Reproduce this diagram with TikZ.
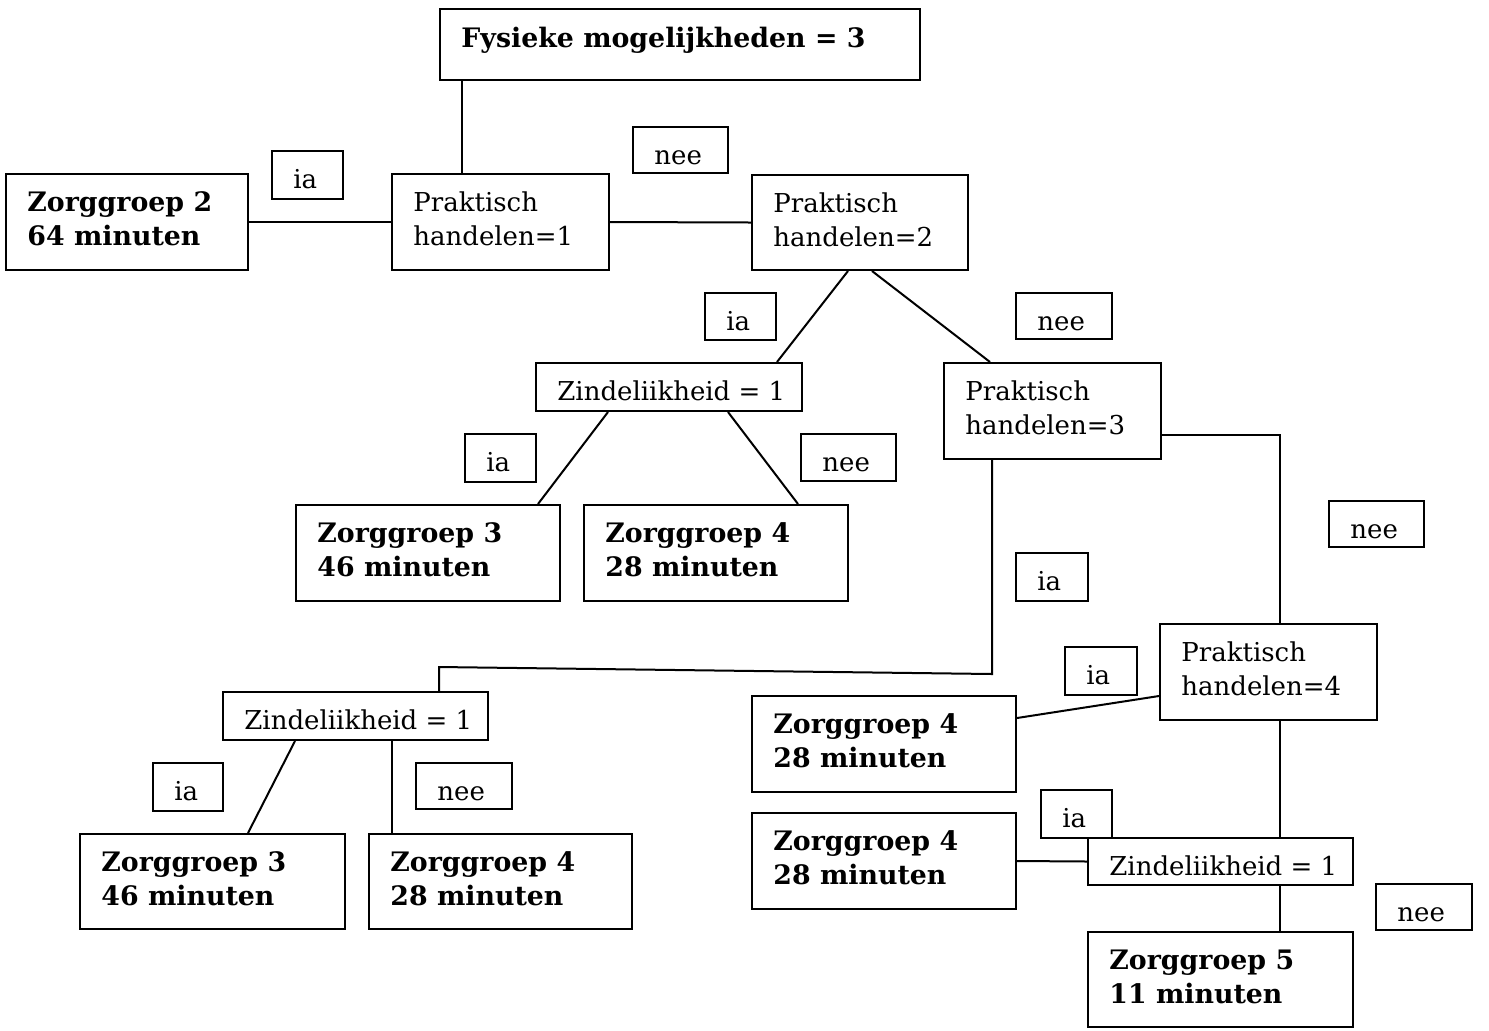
\documentclass[tikz,border=0pt]{standalone}
\usepackage{fontspec}
\setmainfont{DejaVu Serif}
\usetikzlibrary{fit,calc}
\newcommand\twol[2]{\begin{tabular}[t]{@{}l@{}}#1\\#2\end{tabular}}
% #1 name, #2 x1, #3 y1, #4 x2, #5 y2, #6 text style, #7 text
\newcommand\mkbox[7]{%
  \node[box, fit={(#2,#3) (#4,#5)}] (#1) {};
  \node[#6] (#1t) at (#2+21,#3+37.5) {#7};
}
\begin{document}
\begin{tikzpicture}[x=0.5pt,y=-0.5pt,
  box/.style={draw, inner sep=0pt, line width=1pt},
  txt/.style={anchor=base west, inner sep=0pt, font=\fontsize{13}{16.75}\selectfont},
  btxt/.style={anchor=base west, inner sep=0pt, font=\fontsize{13.4}{16.75}\selectfont\bfseries},
  conn/.style={draw, line width=1pt}]
\useasboundingbox (0,0) rectangle (1489,1030);

% top
\node[box, fit={(440,9) (920,80)}] (f) {};
\node[btxt] (ft) at (461,47) {Fysieke mogelijkheden = 3};

% row 1
\mkbox{z2}{6}{174}{248}{270}{btxt}{\twol{Zorggroep 2}{64 minuten}}
\mkbox{l1}{272}{151}{343}{199}{txt}{ia}
\mkbox{p1}{392}{174}{609}{270}{txt}{\twol{Praktisch}{handelen=1}}
\mkbox{l2}{633}{127}{728}{173}{txt}{nee}
\mkbox{p2}{752}{175}{968}{270}{txt}{\twol{Praktisch}{handelen=2}}

% row 2
\mkbox{l3}{705}{293}{776}{340}{txt}{ia}
\mkbox{l4}{1016}{293}{1112}{339}{txt}{nee}
\mkbox{zi1}{536}{363}{802}{411}{txt}{Zindeliikheid = 1}
\mkbox{p3}{944}{363}{1161}{459}{txt}{\twol{Praktisch}{handelen=3}}

% row 3
\mkbox{l5}{465}{434}{536}{482}{txt}{ia}
\mkbox{l6}{801}{434}{896}{481}{txt}{nee}
\mkbox{z3a}{296}{505}{560}{601}{btxt}{\twol{Zorggroep 3}{46 minuten}}
\mkbox{z4a}{584}{505}{848}{601}{btxt}{\twol{Zorggroep 4}{28 minuten}}
\mkbox{l7}{1329}{501}{1424}{547}{txt}{nee}
\mkbox{l8}{1016}{553}{1088}{601}{txt}{ia}

% row 4
\mkbox{p4}{1160}{624}{1377}{720}{txt}{\twol{Praktisch}{handelen=4}}
\mkbox{l9}{1065}{647}{1137}{695}{txt}{ia}
\mkbox{zi2}{223}{692}{488}{740}{txt}{Zindeliikheid = 1}
\mkbox{z4b}{752}{696}{1016}{792}{btxt}{\twol{Zorggroep 4}{28 minuten}}

% row 5
\mkbox{l10}{153}{763}{223}{811}{txt}{ia}
\mkbox{l11}{416}{763}{512}{809}{txt}{nee}
\mkbox{z3b}{80}{834}{345}{929}{btxt}{\twol{Zorggroep 3}{46 minuten}}
\mkbox{z4c}{369}{834}{632}{929}{btxt}{\twol{Zorggroep 4}{28 minuten}}
\mkbox{z4d}{752}{813}{1016}{909}{btxt}{\twol{Zorggroep 4}{28 minuten}}
\mkbox{l12}{1041}{790}{1112}{838}{txt}{ia}
\mkbox{zi3}{1088}{838}{1353}{885}{txt}{Zindeliikheid = 1}
\mkbox{l13}{1376}{884}{1472}{930}{txt}{nee}
\mkbox{z5}{1088}{932}{1353}{1027}{btxt}{\twol{Zorggroep 5}{11 minuten}}

% connectors
\path[conn] ($(f.south west)+(23,0)$) -- ($(p1.north west)+(71,0)$);
\path[conn] (z2.east) -- (p1.west);
\path[conn] (p1.east) -- (p2.west);
\path[conn] ($(p2.south west)+(97,0)$) -- ($(zi1.north west)+(242,0)$);
\path[conn] ($(p2.south west)+(121,0)$) -- ($(p3.north west)+(47,0)$);
\path[conn] ($(zi1.south west)+(73,0)$) -- ($(z3a.north west)+(243,0)$);
\path[conn] ($(zi1.south west)+(193,0)$) -- ($(z4a.north west)+(215,0)$);
\path[conn] ($(p3.south east)+(0,-25)$) -| ($(p4.north west)+(121,0)$);
\coordinate (c1) at ($(p3.south west)+(49,214)$);
\coordinate (c2) at ($(zi2.north west)+(217,-24)$);
\path[conn] ($(p3.south west)+(49,0)$) -- (c1) -- (c2) -- ($(zi2.north west)+(217,0)$);
\path[conn] ($(zi2.south west)+(73,0)$) -- ($(z3b.north west)+(169,0)$);
\path[conn] ($(zi2.south west)+(170,0)$) -- ($(z4c.north west)+(24,0)$);
\path[conn] ($(p4.south west)+(0,-25)$) -- ($(z4b.north east)+(0,23)$);
\path[conn] ($(p4.south west)+(121,0)$) -- ($(zi3.north west)+(193,0)$);
\path[conn] (zi3.west) -- (z4d.east);
\path[conn] ($(zi3.south west)+(193,0)$) -- ($(z5.north west)+(193,0)$);
\end{tikzpicture}
\end{document}
